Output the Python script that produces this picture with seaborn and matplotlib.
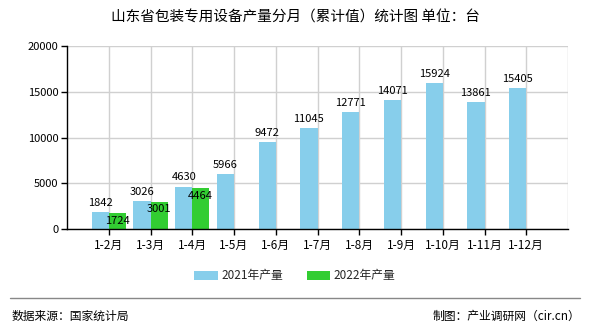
import matplotlib
matplotlib.use("Agg")
import matplotlib.pyplot as plt
import seaborn as sns
import pandas as pd
import numpy as np
from matplotlib.lines import Line2D
from matplotlib.patches import Patch

months = ["1-2月", "1-3月", "1-4月", "1-5月", "1-6月", "1-7月", "1-8月",
          "1-9月", "1-10月", "1-11月", "1-12月"]
output_2021 = [1842, 3026, 4630, 5966, 9472, 11045, 12771, 14071, 15924, 13861, 15405]
output_2022 = [1724, 3001, 4464]
series_names = ["2021年产量", "2022年产量"]
colors = ["#87CEEB", "#32CD32"]
y_ticks = [0, 5000, 10000, 15000, 20000]

sns.set_theme(style="white")
plt.rcParams["font.family"] = ["Noto Sans CJK SC", "DejaVu Sans"]

rows = []
for m, v in zip(months, output_2021):
    rows.append({"月份": m, "系列": series_names[0], "产量": v})
for m, v in zip(months, output_2022):
    rows.append({"月份": m, "系列": series_names[1], "产量": v})
df = pd.DataFrame(rows)

fig = plt.figure(figsize=(5.9, 3.3), dpi=100)
ax = fig.add_axes([67 / 590, 1 - 229 / 330, 501 / 590, 183 / 330])

sns.barplot(data=df, x="月份", y="产量", hue="系列", order=months,
            hue_order=series_names, palette=colors, width=0.82,
            saturation=1, ax=ax, legend=False, errorbar=None,
            linewidth=0, edgecolor="none")

ax.set_xlim(-1, len(months))
ax.set_ylim(0, 20000)
ax.set_yticks(y_ticks)
ax.set_xlabel("")
ax.set_ylabel("")
ax.grid(True, color="#d0d0d0", linewidth=1)
ax.set_axisbelow(True)
for s in ["top", "right"]:
    ax.spines[s].set_visible(False)
for s in ["left", "bottom"]:
    ax.spines[s].set_color("black")
    ax.spines[s].set_linewidth(1)
ax.tick_params(axis="both", direction="out", length=4, width=1, color="black",
               labelsize=8, labelcolor="black", pad=2, bottom=True, left=True)
ax.tick_params(axis="x", labelsize=8.5, pad=3)

# boundary gridline on the right edge
ax.axvline(len(months), color="#d0d0d0", linewidth=1, zorder=0)

# value labels
for bar, v in zip(ax.containers[0], output_2021):
    cx = bar.get_x() + bar.get_width() / 2
    ax.annotate(f"{v}", (cx, v), xytext=(0, 3), textcoords="offset points",
                ha="center", va="bottom", fontsize=8, color="black")
for bar, v in zip(ax.containers[1], output_2022):
    cx = bar.get_x() + bar.get_width() / 2
    ax.annotate(f"{v}", (cx, v), xytext=(0, -2), textcoords="offset points",
                ha="center", va="top", fontsize=8, color="black")

fig.text(0.5, 1 - 18 / 330, "山东省包装专用设备产量分月（累计值）统计图 单位：台",
         ha="center", va="center", fontsize=10.5, color="black")

handles = [Patch(facecolor=c, edgecolor="none") for c in colors]
fig.legend(handles, series_names, loc="center", bbox_to_anchor=(0.5, 1 - 276 / 330),
           ncol=2, frameon=False, fontsize=8.5, handlelength=2.0, handleheight=0.9,
           columnspacing=2.0, handletextpad=0.3)

fig.add_artist(Line2D([10 / 590, 580 / 590], [1 - 298 / 330, 1 - 298 / 330],
                      color="#888888", linewidth=1))
fig.text(12 / 590, 1 - 316 / 330, "数据来源：国家统计局", ha="left", va="center",
         fontsize=8.5, color="black")
fig.text(580 / 590, 1 - 316 / 330, "制图：产业调研网（cir.cn）", ha="right", va="center",
         fontsize=8.5, color="black")

fig.savefig("out.png", dpi=100)
